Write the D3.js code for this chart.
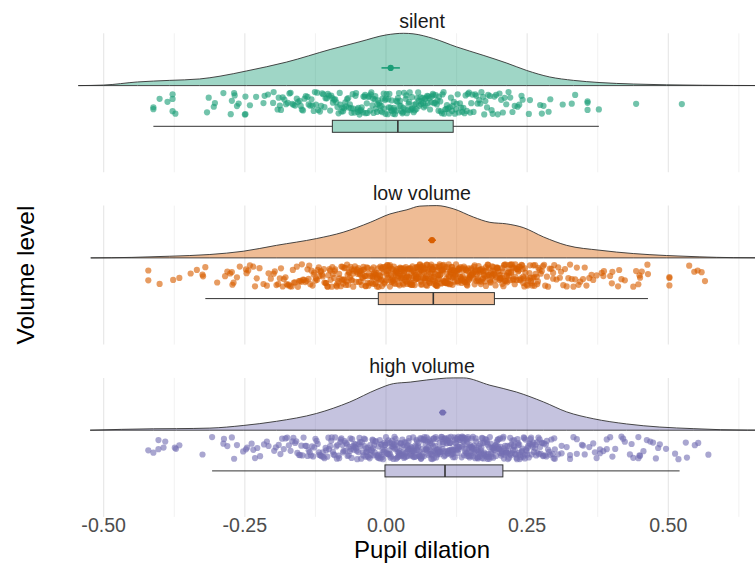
<!DOCTYPE html>
<html><head><meta charset="utf-8">
<script src="https://cdn.jsdelivr.net/npm/d3@7"></script>
<style>html,body{margin:0;padding:0;background:#fff;}svg{display:block;}</style>
</head><body>
<svg id="chart" width="755" height="564"></svg>
<script>
const categories = ["silent", "low volume", "high volume"];
const xTicks = [-0.5, -0.25, 0, 0.25, 0.5];
const xTickLabels = ["-0.50", "-0.25", "0.00", "0.25", "0.50"];
const xMinorTicks = [-0.375, -0.125, 0.125, 0.375, 0.625];

const silentValues = [-.412,-.412,-.401,-.387,-.378,-.378,-.378,-.373,-.317,-.314,-.305,-.303,-.288,-.275,-.273,-.269,-.268,-.264,-.261,-.250,-.249,-.249,-.241,-.230,-.217,-.215,-.209,
-.200,-.199,-.192,-.190,-.188,-.186,-.183,-.180,-.177,
-.174,-.171,-.169,-.166,-.164,-.161,-.158,-.156,-.153,-.151,
-.149,-.147,-.144,-.142,-.139,-.137,-.134,-.132,-.130,-.128,-.126,
-.124,-.122,-.120,-.117,-.115,-.113,-.111,-.109,-.107,-.105,-.103,-.101,
-.099,-.097,-.095,-.094,-.092,-.090,-.088,-.086,-.084,-.082,-.081,-.079,-.077,-.076,
-.074,-.072,-.071,-.069,-.067,-.066,-.064,-.062,-.061,-.059,-.058,-.056,-.054,-.053,-.051,-.050,
-.049,-.047,-.046,-.044,-.043,-.041,-.040,-.038,-.037,-.036,-.034,-.033,-.031,-.030,-.028,-.027,-.026,
-.024,-.023,-.022,-.020,-.019,-.018,-.016,-.015,-.014,-.012,-.011,-.010,-.008,-.007,-.006,-.004,-.003,-.002,-.001,
0,.001,.003,.004,.005,.006,.008,.009,.010,.011,.013,.014,.015,.016,.018,.019,.020,.021,.023,.024,
.025,.026,.027,.029,.030,.031,.032,.034,.035,.036,.037,.039,.040,.041,.042,.044,.045,.046,.047,.049,
.050,.051,.053,.054,.055,.057,.058,.059,.061,.062,.063,.065,.066,.067,.069,.070,.071,.073,.074,
.075,.077,.078,.080,.081,.083,.084,.085,.087,.088,.090,.091,.093,.094,.096,.097,.099,
.100,.102,.103,.105,.107,.108,.110,.112,.113,.115,.117,.118,.120,.122,.124,
.125,.127,.129,.131,.133,.135,.137,.139,.141,.143,.145,.147,.149,
.151,.153,.155,.158,.160,.162,.165,.167,.169,.172,.174,
.176,.179,.181,.184,.187,.189,.192,.195,.198,
.201,.204,.207,.210,.213,.217,.220,.224,.228,.233,
.236,.240,.242,.253,.255,.273,.276,.279,.288,.291,.313,.329,.335,.357,.357,.357,.377,.443,.524];

const lowValues = [-.421,-.421,-.401,-.377,-.366,-.346,-.335,-.325,-.324,-.320,-.299,-.285,-.281,-.276,-.273,-.272,-.270,-.264,-.259,-.248,-.247,-.244,-.241,-.235,-.232,-.229,-.224,-.217,-.211,-.208,-.204,
-.199,-.197,-.194,-.191,-.188,-.186,-.183,-.181,-.178,-.176,
-.174,-.172,-.170,-.167,-.165,-.163,-.161,-.158,-.156,-.154,-.152,-.150,
-.149,-.147,-.145,-.143,-.141,-.139,-.137,-.136,-.134,-.132,-.130,-.128,-.127,-.125,
-.124,-.122,-.121,-.119,-.118,-.116,-.115,-.113,-.112,-.110,-.109,-.107,-.106,-.104,-.103,-.102,-.100,
-.099,-.098,-.096,-.095,-.094,-.092,-.091,-.090,-.088,-.087,-.086,-.084,-.083,-.082,-.080,-.079,-.078,-.077,-.076,-.075,
-.074,-.073,-.072,-.071,-.070,-.069,-.068,-.067,-.066,-.065,-.064,-.063,-.062,-.061,-.060,-.059,-.058,-.057,-.056,-.055,-.053,-.052,-.051,
-.050,-.049,-.048,-.047,-.046,-.046,-.045,-.044,-.043,-.042,-.041,-.041,-.040,-.039,-.038,-.037,-.036,-.036,-.035,-.034,-.033,-.032,-.031,-.030,-.029,-.028,-.026,
-.025,-.024,-.024,-.023,-.022,-.022,-.021,-.020,-.019,-.019,-.018,-.017,-.016,-.016,-.015,-.014,-.013,-.013,-.012,-.011,-.010,-.010,-.009,-.008,-.007,-.007,-.006,-.005,-.004,-.003,-.002,-.001,
0,.001,.001,.002,.003,.003,.004,.005,.005,.006,.007,.007,.008,.009,.010,.010,.011,.012,.012,.013,.014,.014,.015,.016,.016,.017,.018,.018,.019,.020,.020,.021,.022,.022,.023,.024,.024,
.025,.025,.026,.027,.027,.028,.028,.029,.030,.030,.031,.032,.032,.033,.033,.034,.035,.035,.036,.037,.037,.038,.038,.039,.040,.040,.041,.042,.042,.043,.043,.044,.045,.045,.046,.047,.047,.048,.048,.049,
.050,.050,.051,.052,.052,.053,.053,.054,.054,.055,.056,.056,.057,.057,.058,.059,.059,.060,.060,.061,.062,.062,.063,.063,.064,.064,.065,.066,.066,.067,.067,.068,.069,.069,.070,.070,.071,.072,.072,.073,.073,.074,
.075,.075,.076,.077,.077,.078,.078,.079,.079,.080,.081,.081,.082,.082,.083,.084,.084,.085,.085,.086,.087,.087,.088,.088,.089,.089,.090,.091,.091,.092,.092,.093,.094,.094,.095,.095,.096,.097,.097,.098,.098,.099,
.100,.100,.101,.102,.102,.103,.103,.104,.105,.105,.106,.106,.107,.108,.108,.109,.109,.110,.111,.111,.112,.112,.113,.114,.114,.115,.115,.116,.117,.117,.118,.118,.119,.120,.120,.121,.121,.122,.123,.123,.124,
.125,.126,.126,.127,.128,.128,.129,.130,.130,.131,.132,.132,.133,.134,.134,.135,.136,.136,.137,.138,.138,.139,.140,.140,.141,.142,.142,.143,.144,.144,.145,.146,.146,.147,.148,.148,.149,
.150,.151,.151,.152,.153,.154,.154,.155,.156,.157,.157,.158,.159,.160,.160,.161,.162,.163,.163,.164,.165,.166,.166,.167,.168,.169,.169,.170,.171,.172,.172,.173,.174,
.175,.176,.177,.177,.178,.179,.180,.181,.181,.182,.183,.184,.185,.185,.186,.187,.188,.189,.189,.190,.191,.192,.193,.193,.194,.195,.196,.197,.197,.198,.199,
.200,.201,.202,.202,.203,.204,.205,.206,.206,.207,.208,.209,.210,.210,.211,.212,.213,.214,.214,.215,.216,.217,.218,.218,.219,.220,.221,.222,.222,.223,.224,
.225,.226,.227,.228,.229,.229,.230,.231,.232,.233,.234,.235,.236,.236,.237,.238,.239,.240,.241,.242,.243,.243,.244,.245,.246,.247,.249,
.250,.251,.252,.254,.255,.256,.257,.258,.259,.260,.261,.262,.263,.264,.265,.267,.268,.269,.270,.272,.274,
.276,.278,.280,.282,.285,.287,.290,.293,.296,.296,.298,.302,.305,.308,.310,.314,.317,.320,.323,.326,.329,.332,.335,.338,.341,.344,.349,.352,.355,.360,.364,.367,.373,.382,.385,.386,.397,.400,.401,.411,.413,.417,.423,.438,.443,.447,.449,.450,.453,.463,.464,.502,.502,.502,.537,.546,.552,.559,.565];

const highValues = [-.421,-.412,-.403,-.403,-.394,-.391,-.374,-.372,-.366,-.325,-.308,-.288,-.287,-.281,-.273,-.269,-.264,-.253,-.248,-.246,-.238,-.235,-.232,-.228,-.223,-.216,-.211,-.208,-.198,-.195,
-.190,-.187,-.184,-.181,-.178,-.175,-.172,-.169,-.166,
-.164,-.161,-.159,-.157,-.154,-.152,-.150,-.148,-.146,-.143,-.141,
-.139,-.137,-.135,-.133,-.131,-.129,-.127,-.125,-.123,-.121,-.119,-.118,-.116,
-.114,-.112,-.111,-.109,-.107,-.106,-.104,-.102,-.101,-.099,-.097,-.096,-.094,-.093,-.091,
-.090,-.088,-.087,-.086,-.084,-.083,-.081,-.080,-.079,-.077,-.076,-.075,-.073,-.072,-.071,-.069,-.068,-.066,
-.065,-.064,-.063,-.062,-.061,-.060,-.058,-.057,-.056,-.055,-.054,-.053,-.052,-.051,-.049,-.048,-.047,-.046,-.045,-.044,-.043,-.041,
-.040,-.039,-.038,-.037,-.036,-.035,-.035,-.034,-.033,-.032,-.031,-.030,-.029,-.028,-.027,-.026,-.025,-.024,-.023,-.023,-.022,-.021,-.020,-.019,-.018,-.016,
-.015,-.014,-.013,-.013,-.012,-.011,-.010,-.009,-.008,-.008,-.007,-.006,-.005,-.004,-.003,-.003,-.002,-.001,0,.001,.002,.002,.003,.004,.005,.006,.007,.007,.008,.009,
.010,.011,.011,.012,.013,.014,.014,.015,.016,.017,.017,.018,.019,.020,.020,.021,.022,.023,.023,.024,.025,.026,.026,.027,.028,.029,.029,.030,.031,.032,.032,.033,.034,
.035,.035,.036,.037,.038,.038,.039,.040,.040,.041,.042,.043,.043,.044,.045,.045,.046,.047,.048,.048,.049,.050,.050,.051,.052,.053,.053,.054,.055,.055,.056,.057,.058,.058,.059,
.060,.060,.061,.062,.062,.063,.064,.065,.065,.066,.067,.067,.068,.069,.070,.070,.071,.072,.072,.073,.074,.075,.075,.076,.077,.077,.078,.079,.080,.080,.081,.082,.082,.083,.084,.084,
.085,.085,.086,.087,.087,.088,.089,.089,.090,.091,.092,.092,.093,.094,.094,.095,.096,.096,.097,.098,.099,.099,.100,.101,.101,.102,.103,.104,.104,.105,.106,.106,.107,.108,.108,.109,.109,
.110,.110,.111,.112,.112,.113,.113,.114,.115,.115,.116,.117,.117,.118,.119,.119,.120,.120,.121,.122,.122,.123,.124,.124,.125,.126,.126,.127,.127,.128,.129,.129,.130,.131,.131,.132,.133,.134,
.135,.135,.136,.137,.137,.138,.138,.139,.140,.140,.141,.142,.142,.143,.144,.144,.145,.145,.146,.147,.147,.148,.149,.149,.150,.151,.151,.152,.152,.153,.154,.154,.155,.156,.156,.157,.158,.159,
.160,.160,.161,.162,.163,.163,.164,.165,.165,.166,.167,.168,.168,.169,.170,.170,.171,.172,.173,.173,.174,.175,.175,.176,.177,.178,.178,.179,.180,.180,.181,.182,.183,.183,.184,
.185,.186,.187,.187,.188,.189,.190,.191,.191,.192,.193,.194,.194,.195,.196,.197,.198,.198,.199,.200,.201,.202,.202,.203,.204,.205,.205,.206,.207,.208,.209,.209,
.210,.211,.212,.213,.213,.214,.215,.216,.217,.218,.219,.220,.220,.221,.222,.223,.224,.225,.226,.227,.227,.228,.229,.230,.231,.232,.233,.234,.234,
.235,.236,.237,.238,.239,.240,.241,.242,.243,.244,.245,.246,.246,.247,.248,.249,.250,.251,.252,.253,.254,.255,.256,.257,.258,.259,
.260,.261,.262,.264,.265,.266,.267,.268,.270,.271,.272,.273,.274,.276,.277,.278,.279,.280,.282,.283,.284,
.285,.287,.289,.291,.293,.295,.297,.298,
.299,.299,.305,.311,.311,.320,.326,.326,.332,.338,.338,.347,.349,.352,.360,.367,.370,.373,.379,.379,.385,.391,.391,.397,.401,.406,.417,.420,.423,.432,.435,.438,.447,.447,.449,.450,.456,.462,.468,.473,.478,.482,.485,.496,.512,.518,.531,.533,.547,.553,.571];

const pointValues = [silentValues, lowValues, highValues];

// density curves (x value, height relative to the group's peak)
const densXSilent = [-0.545,-0.50,-0.44,-0.383,-0.33,-0.294,-0.247,-0.176,-0.099,-0.046,0.001,0.031,0.048,0.084,0.125,0.172,0.214,0.249,0.29,0.332,0.379,0.438,0.497,0.56,0.615,0.70];
const densYSilent = [0,0.01,0.07,0.10,0.127,0.18,0.28,0.45,0.69,0.84,0.97,1.0,0.99,0.90,0.74,0.58,0.43,0.29,0.165,0.10,0.058,0.03,0.015,0.007,0.003,0];
const densXLow = [-0.523,-0.45,-0.383,-0.312,-0.253,-0.194,-0.123,-0.076,-0.028,0.007,0.037,0.06,0.09,0.119,0.155,0.184,0.214,0.243,0.279,0.32,0.379,0.438,0.497,0.556,0.615,0.70];
const densYLow = [0,0.01,0.032,0.065,0.127,0.24,0.37,0.49,0.68,0.84,0.92,0.99,1.0,0.94,0.78,0.68,0.65,0.58,0.40,0.24,0.146,0.083,0.045,0.02,0.005,0];
const densXHigh = [-0.524,-0.412,-0.371,-0.312,-0.253,-0.194,-0.123,-0.064,-0.016,0.013,0.043,0.072,0.119,0.137,0.184,0.231,0.279,0.32,0.367,0.426,0.485,0.544,0.592,0.64,0.70];
const densYHigh = [0,0.027,0.03,0.04,0.09,0.17,0.32,0.54,0.78,0.89,0.92,0.96,1.0,1.0,0.86,0.73,0.54,0.35,0.22,0.12,0.06,0.03,0.01,0.002,0];
const densX = [densXSilent, densXLow, densXHigh];
const densY = [densYSilent, densYLow, densYHigh];

// boxplot statistics
const whiskerLow = [-0.412, -0.320, -0.308];
const q1 = [-0.095, -0.0136, -0.0018];
const median = [0.021, 0.0838, 0.1045];
const q3 = [0.119, 0.192, 0.207];
const whiskerHigh = [0.377, 0.464, 0.520];

// mean +/- error
const means = [0.0083, 0.0815, 0.1004];
const meanErr = [0.0163, 0.007, 0.0065];

const palette = ["#1B9E77", "#D95F02", "#7570B3"];

const svg = d3.select("#chart");
svg.append("rect").attr("width", 755).attr("height", 564).attr("fill", "#fff");
const font = "'Liberation Sans', Arial, Helvetica, sans-serif";

const x = d3.scaleLinear().domain([-0.5, 0.5]).range([103.7, 668.3]);
const panelLeft = 78, panelRight = 766;
const panelH = 139;
const panelTop = d3.scaleBand().domain(categories).range([33.3, 33.3 + 3 * panelH + 2 * 33.3]).paddingInner(33.3 / (panelH + 33.3)).paddingOuter(0);

svg.append("defs").append("clipPath").attr("id", "clip")
  .append("rect").attr("x", panelLeft).attr("y", 0).attr("width", panelRight - panelLeft).attr("height", 564);

function jit(n) {
  let t = (n * 0x6D2B79F5 + 0x9E3779B9) >>> 0;
  t = Math.imul(t ^ (t >>> 15), t | 1);
  t ^= t + Math.imul(t ^ (t >>> 7), t | 61);
  return ((t ^ (t >>> 14)) >>> 0) / 4294967296;
}

categories.forEach((cat, gi) => {
  const top = panelTop(cat);
  const bottom = top + panelTop.bandwidth();
  const g = svg.append("g");
  // grid
  xMinorTicks.forEach(v => g.append("line").attr("x1", x(v)).attr("x2", x(v)).attr("y1", top).attr("y2", bottom)
    .attr("stroke", "#efefef").attr("stroke-width", 0.9));
  xTicks.forEach(v => g.append("line").attr("x1", x(v)).attr("x2", x(v)).attr("y1", top).attr("y2", bottom)
    .attr("stroke", "#e6e6e6").attr("stroke-width", 1.1));
  // strip title
  svg.append("text").attr("x", (panelLeft + panelRight) / 2).attr("y", top - 5.2)
    .attr("text-anchor", "middle").attr("font-family", font).attr("font-size", 19.6)
    .attr("fill", "#1a1a1a").text(cat);

  const pg = svg.append("g").attr("clip-path", "url(#clip)");
  const color = palette[gi];
  // density (flat violin)
  const base = top + 52.3;
  const yd = d3.scaleLinear().domain([0, 1]).range([base, top]);
  const pts = densX[gi].map((v, i) => [v, densY[gi][i]]);
  const area = d3.area().x(d => x(d[0])).y0(base).y1(d => yd(d[1])).curve(d3.curveMonotoneX);
  pg.append("path").attr("d", area(pts)).attr("fill", color).attr("fill-opacity", 0.42)
    .attr("stroke", "#333").attr("stroke-width", 0.9);

  // mean + error bar
  const my = top + 34.6;
  pg.append("line").attr("x1", x(means[gi] - meanErr[gi])).attr("x2", x(means[gi] + meanErr[gi]))
    .attr("y1", my).attr("y2", my).attr("stroke", color).attr("stroke-width", 1.6);
  pg.append("circle").attr("cx", x(means[gi])).attr("cy", my).attr("r", 3.1).attr("fill", color);

  // jittered points
  const cy = top + 70;
  pg.append("g").selectAll("circle").data(pointValues[gi]).join("circle")
    .attr("cx", d => x(d))
    .attr("cy", (d, i) => cy + (jit(i * 3 + gi * 7919) * 2 - 1) * 11.3)
    .attr("r", 3.1).attr("fill", color).attr("fill-opacity", 0.62);

  // boxplot
  const bt = top + 87, bb = top + 99, bm = (bt + bb) / 2;
  pg.append("line").attr("x1", x(whiskerLow[gi])).attr("x2", x(q1[gi])).attr("y1", bm).attr("y2", bm)
    .attr("stroke", "#333").attr("stroke-width", 1);
  pg.append("line").attr("x1", x(q3[gi])).attr("x2", x(whiskerHigh[gi])).attr("y1", bm).attr("y2", bm)
    .attr("stroke", "#333").attr("stroke-width", 1);
  pg.append("rect").attr("x", x(q1[gi])).attr("y", bt).attr("width", x(q3[gi]) - x(q1[gi])).attr("height", bb - bt)
    .attr("fill", color).attr("fill-opacity", 0.42).attr("stroke", "#333").attr("stroke-width", 1);
  pg.append("line").attr("x1", x(median[gi])).attr("x2", x(median[gi])).attr("y1", bt).attr("y2", bb)
    .attr("stroke", "#333").attr("stroke-width", 1.6);
});

// x axis tick labels
const lastBottom = panelTop(categories[2]) + panelTop.bandwidth();
xTicks.forEach((v, i) => {
  svg.append("text").attr("x", x(v)).attr("y", lastBottom + 15.5).attr("text-anchor", "middle")
    .attr("font-family", font).attr("font-size", 19.6).attr("fill", "#4d4d4d").text(xTickLabels[i]);
});
svg.append("text").attr("x", (panelLeft + panelRight) / 2).attr("y", 558.3)
  .attr("text-anchor", "middle").attr("font-family", font).attr("font-size", 24).attr("fill", "#000")
  .text("Pupil dilation");
svg.append("text").attr("transform", `translate(34,${(33.3 + lastBottom) / 2}) rotate(-90)`)
  .attr("text-anchor", "middle").attr("font-family", font).attr("font-size", 24.5).attr("fill", "#000")
  .text("Volume level");
</script>
</body></html>
